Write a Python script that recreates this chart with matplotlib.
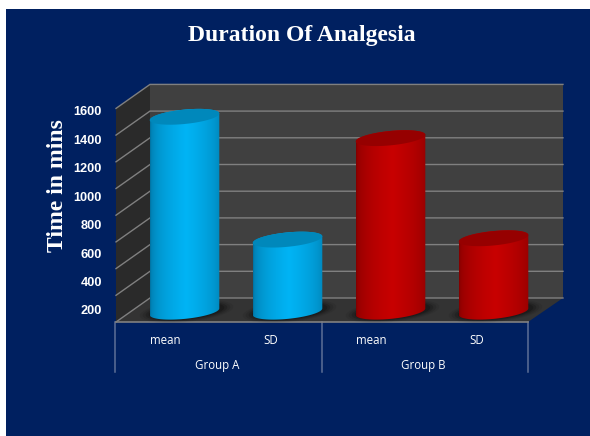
import numpy as np
import matplotlib
matplotlib.use("Agg")
import matplotlib.pyplot as plt
from matplotlib.patches import Polygon, Rectangle

# Chart values
title = "Duration Of Analgesia"
y_label = "Time in mins"
bar_labels = ["mean", "SD", "mean", "SD"]
group_labels = ["Group A", "Group B"]
bar_values = [1460, 540, 1300, 550]
y_ticks = [200, 400, 600, 800, 1000, 1200, 1400, 1600]
grid_values = [0, 200, 400, 600, 800, 1000, 1200, 1400, 1600]

W, H = 590, 436
NAVY = "#002060"
GRID = "#808080"
DIVIDER = "#5d6f96"

# Pixel scale of the data axes: one category wide, 200 minutes tall
CAT_PX = 103.0
GRID_PX = 26.7
X0_PX = 184.5
Y0_PX = 311.7


def dx(px):
    return px / CAT_PX


def dv(px):
    return px * 200.0 / GRID_PX


def x_at(px):
    return (px - X0_PX) / CAT_PX


def v_at(px):
    return (Y0_PX - px) * 200.0 / GRID_PX


fig = plt.figure(figsize=(W / 100, H / 100), dpi=100, facecolor="white")
ax = fig.add_axes([0, 0, 1, 1])
ax.set_xlim(x_at(0), x_at(W))
ax.set_ylim(v_at(H), v_at(0))
ax.axis("off")

# Slide background, leaves a white strip at top and left
ax.add_patch(Rectangle((x_at(6), v_at(H)), dx(W), dv(H - 9), fc=NAVY, ec="none", zorder=0))

# 3D box: back wall, side wall, floor
left_front, left_back = x_at(116), x_at(150)
right_front, right_back = x_at(528), x_at(563)
v_back = v_at(298)
v_front = v_at(322)
v_top = v_back + grid_values[-1]

ax.add_patch(Polygon([(left_back, v_back), (right_back, v_back), (right_back, v_top), (left_back, v_top)],
                     fc="#404040", ec="none", zorder=1))
ax.add_patch(Polygon([(left_front, v_front), (left_back, v_back), (left_back, v_top), (left_front, v_front + grid_values[-1])],
                     fc="#2a2a2a", ec="none", zorder=1))
ax.add_patch(Polygon([(left_front, v_front), (right_front, v_front), (right_back, v_back), (left_back, v_back)],
                     fc="#333333", ec="none", zorder=1))

# Gridlines run along the side wall and the back wall
for g in grid_values:
    ax.plot([left_front, left_back, right_back], [v_front + g, v_back + g, v_back + g],
            color=GRID, lw=1.0, zorder=2, solid_joinstyle="miter")
ax.plot([left_front, right_front], [v_front, v_front], color=GRID, lw=1.2, zorder=3)

# Category dividers under the floor
for px in [115, 321.7, 527.7]:
    ax.plot([x_at(px), x_at(px)], [v_front, v_at(371.5)], color=DIVIDER, lw=1.1, zorder=2)


def shade(dark, bright):
    # Horizontal gradient across a cylinder, brightest a little right of centre
    t = np.linspace(0, 1, 120)
    k = np.clip(1 - np.abs(t - 0.52) / 0.52, 0, 1) ** 0.4
    dark = np.array(matplotlib.colors.to_rgb(dark))
    bright = np.array(matplotlib.colors.to_rgb(bright))
    return (dark + (bright - dark) * k[:, None])[None, :, :]


def ellipse(cx, v, a, b, shear, start=0.0, stop=2 * np.pi):
    th = np.linspace(start, stop, 80)
    ex = a * np.cos(th)
    return cx + ex, v + b * np.sin(th) + shear * ex


a = dx(34.8)
b = dv(7.2)
shear = dv(3.3) / a
bar_colors = [("#00709f", "#00b4f5", "#0088bb"), ("#00709f", "#00b4f5", "#0088bb"),
              ("#7e0000", "#c80000", "#960000"), ("#7e0000", "#c80000", "#960000")]

for i, (val, (dark, bright, top)) in enumerate(zip(bar_values, bar_colors)):
    # Soft shadow on the floor
    for grow, alpha in [(12, 0.07), (9, 0.1), (6, 0.15), (3, 0.2)]:
        sx, sy = ellipse(i + dx(2), dv(0.5), a + dx(grow), b + dv(grow * 0.3), shear)
        ax.fill(sx, sy, color="black", alpha=alpha, lw=0, zorder=3)

    # Side of the cylinder: top rim arc, lower base arc
    tx, ty = ellipse(i, val, a, b, shear, 0, np.pi)
    bx, by = ellipse(i, 0, a, b, shear, np.pi, 2 * np.pi)
    side = Polygon(np.column_stack([np.r_[tx, bx], np.r_[ty, by]]), fc="none", ec="none", transform=ax.transData)
    ax.add_patch(side)
    im = ax.imshow(shade(dark, bright), extent=(i - a, i + a, -b * 2, val + b * 2),
                   aspect="auto", interpolation="bilinear", zorder=4)
    im.set_clip_path(side)

    # Top face
    ex, ey = ellipse(i, val, a, b, shear)
    ax.fill(ex, ey, color=top, lw=0, zorder=5)

ax.set_xlim(x_at(0), x_at(W))
ax.set_ylim(v_at(H), v_at(0))

# Category and group labels
for i, label in enumerate(bar_labels):
    ax.text(i - dx(17) - dx(2 if label == "mean" else 0), v_at(340), label, color="white", fontsize=8.3,
            family="Open Sans", ha="center", va="center", zorder=6)
for i, label in enumerate(group_labels):
    ax.text(2 * i + 0.5 - dx(19), v_at(365), label, color="white", fontsize=8.3,
            family="Open Sans", ha="center", va="center", zorder=6)

ax.text(x_at(302), v_at(35), title, color="white", fontsize=17, fontweight="bold",
        family="Liberation Serif", ha="center", va="center", zorder=6)
ax.text(x_at(57), v_at(186), y_label, color="white", fontsize=17, fontweight="bold",
        family="Liberation Serif", rotation=90, ha="center", va="center", zorder=6)

# Value axis labels sit on their own scale, slightly wider than the gridlines
ax_ticks = fig.add_axes([116 / W, 1 - 310 / H, 1 / W, (310 - 110.7) / H])
ax_ticks.set_ylim(y_ticks[0], y_ticks[-1])
ax_ticks.set_yticks(y_ticks)
ax_ticks.set_xticks([])
ax_ticks.patch.set_visible(False)
for spine in ax_ticks.spines.values():
    spine.set_visible(False)
ax_ticks.tick_params(axis="y", length=0, pad=10, labelcolor="white", labelsize=9.2)
for t in ax_ticks.get_yticklabels():
    t.set_fontweight("bold")
    t.set_family("Liberation Sans")

fig.savefig("out.png", dpi=100, facecolor="white")
